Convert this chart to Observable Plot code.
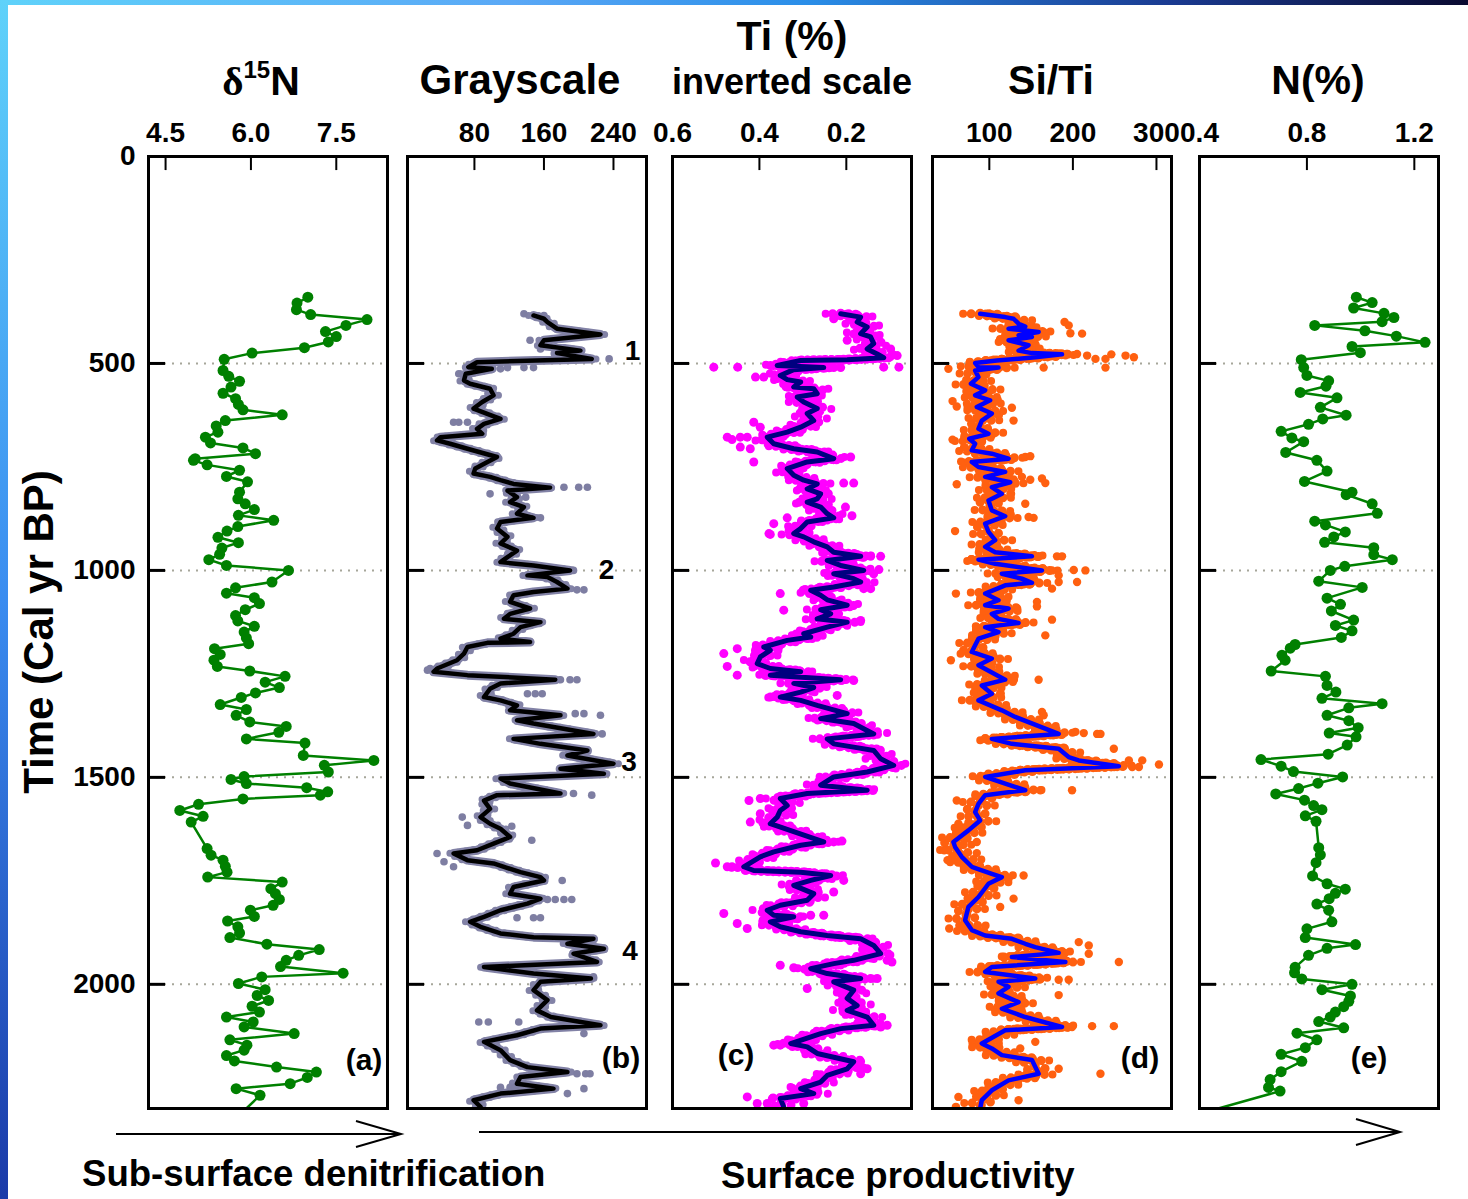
<!DOCTYPE html>
<html>
<head>
<meta charset="utf-8">
<script src="https://cdn.jsdelivr.net/npm/d3@7"></script>
<script src="https://cdn.jsdelivr.net/npm/@observablehq/plot@0.6"></script>
<style>
  body { margin: 0; background: #fff; }
  #page { position: relative; width: 1468px; height: 1199px; overflow: hidden; background: #fff; }
  #page svg { display: block; }
</style>
</head>
<body>
<div id="page"></div>
<script>
// ---------- data: [age (cal yr BP), value] ----------
const d15N = [[340,7.00],[354,6.81],[370,6.80],[382,7.05],[394,8.04],[408,7.67],[423,7.31],[435,7.50],[448,7.36],[462,6.94],[475,6.02],[490,5.53],[517,5.51],[531,5.61],[543,5.80],[557,5.65],[572,5.51],[585,5.73],[599,5.78],[612,5.86],[624,6.55],[638,5.55],[651,5.39],[666,5.42],[678,5.20],[692,5.29],[704,5.86],[718,6.08],[730,5.02],[734,4.99],[745,5.23],[758,5.80],[773,5.57],[786,5.94],[811,5.80],[827,5.77],[839,5.90],[853,6.06],[867,5.78],[879,6.40],[894,5.77],[905,5.58],[920,5.42],[933,5.78],[946,5.49],[961,5.45],[974,5.26],[988,5.57],[1000,6.66],[1028,6.37],[1042,5.73],[1055,5.57],[1066,6.06],[1080,6.15],[1095,5.90],[1109,5.73],[1122,5.77],[1135,6.06],[1149,5.88],[1163,5.92],[1177,5.96],[1189,5.36],[1203,5.46],[1217,5.35],[1232,5.41],[1243,5.98],[1256,6.60],[1270,6.25],[1283,6.50],[1296,6.08],[1307,5.83],[1324,5.46],[1336,5.92],[1350,5.74],[1366,5.98],[1377,6.62],[1391,6.49],[1407,5.92],[1417,6.95],[1447,6.92],[1459,8.16],[1471,7.29],[1487,7.36],[1498,5.88],[1505,5.65],[1515,5.92],[1525,6.98],[1535,7.35],[1543,7.22],[1552,5.86],[1565,5.08],[1580,4.75],[1594,5.16],[1608,4.95],[1672,5.23],[1688,5.30],[1700,5.51],[1715,5.55],[1729,5.58],[1741,5.24],[1753,6.55],[1769,6.35],[1781,6.43],[1795,6.50],[1809,6.39],[1821,5.99],[1836,6.06],[1847,5.59],[1861,5.77],[1876,5.80],[1887,5.63],[1903,6.28],[1916,7.20],[1930,6.84],[1942,6.62],[1957,6.52],[1973,7.62],[1982,6.19],[1998,5.78],[2013,6.25],[2027,6.11],[2039,6.31],[2053,6.02],[2067,6.15],[2079,5.57],[2091,6.04],[2103,5.88],[2119,6.76],[2134,5.63],[2147,5.93],[2159,5.88],[2172,5.57],[2185,5.71],[2200,6.45],[2212,7.15],[2225,6.99],[2240,6.69],[2252,5.74],[2268,6.16],[2300,5.92]];

const grayLine = [[384,148],[392,160],[400,164],[416,175],[430,225],[444,160],[456,156],[469,202],[475,175],[489,215],[497,83],[509,73],[513,100],[525,70],[541,68],[549,75],[561,98],[577,102],[593,89],[609,79],[621,94],[634,110],[646,91],[658,83],[670,89],[678,41],[686,37],[694,52],[706,72],[726,106],[738,95],[754,81],[766,79],[774,98],[782,110],[791,125],[800,167],[807,118],[823,129],[835,121],[847,137],[863,129],[873,148],[883,110],[899,106],[919,118],[935,110],[952,129],[968,118],[980,110],[988,148],[1000,190],[1012,141],[1016,164],[1028,175],[1044,187],[1052,148],[1060,125],[1076,121],[1092,144],[1105,121],[1117,114],[1125,156],[1137,133],[1153,125],[1165,110],[1173,144],[1175,95],[1185,72],[1201,68],[1217,60],[1237,37],[1245,33],[1253,72],[1264,173],[1273,110],[1286,98],[1306,91],[1314,110],[1326,129],[1338,121],[1350,179],[1362,129],[1370,148],[1395,217],[1407,125],[1419,156],[1435,210],[1447,187],[1467,240],[1479,179],[1491,229],[1503,110],[1515,121],[1539,179],[1543,106],[1556,91],[1576,98],[1596,87],[1612,98],[1624,110],[1644,121],[1660,102],[1676,83],[1684,56],[1700,72],[1708,102],[1729,133],[1741,156],[1749,160],[1765,125],[1781,121],[1793,156],[1805,141],[1821,110],[1837,91],[1849,75],[1861,87],[1877,110],[1886,148],[1890,217],[1902,187],[1914,229],[1926,194],[1946,221],[1958,91],[1974,148],[1986,214],[1994,156],[2014,148],[2038,164],[2063,152],[2079,168],[2099,225],[2107,156],[2123,129],[2139,91],[2159,110],[2183,121],[2200,141],[2212,187],[2224,133],[2240,129],[2252,171],[2264,110],[2280,79],[2296,87]];

const grayDots = [[380,137],[384,160],[444,144],[465,156],[489,235],[513,110],[510,118],[510,137],[510,148],[525,62],[642,56],[642,62],[642,72],[799,183],[799,200],[799,210],[815,98],[823,139],[873,156],[1000,194],[1047,206],[1047,198],[1264,179],[1264,190],[1264,198],[1298,141],[1298,150],[1298,158],[1237,29],[1241,26],[1346,196],[1346,206],[1350,225],[1395,227],[1539,194],[1543,215],[1596,66],[1616,72],[1618,123],[1652,146],[1749,181],[1795,164],[1795,173],[1795,183],[1795,192],[1839,129],[1839,148],[1839,156],[1982,217],[2091,85],[2091,96],[2091,131],[2119,206],[2216,198],[2216,208],[2216,213],[2252,206],[2264,187],[2249,110],[2249,121],[2249,127],[1684,37],[1704,45],[1716,56]];

const events = [[471,262,"1"],[1000,232,"2"],[1464,258,"3"],[1920,259,"4"]];

const tiLine = [[380,0.213],[388,0.167],[400,0.175],[412,0.152],[428,0.167],[436,0.144],[452,0.137],[465,0.152],[477,0.129],[486,0.114],[491,0.198],[493,0.305],[505,0.359],[510,0.252],[515,0.321],[529,0.352],[539,0.336],[545,0.305],[557,0.321],[561,0.275],[573,0.267],[581,0.313],[593,0.298],[609,0.267],[621,0.290],[638,0.275],[654,0.305],[666,0.336],[678,0.382],[694,0.367],[706,0.321],[714,0.267],[730,0.229],[738,0.290],[754,0.336],[770,0.321],[782,0.298],[791,0.267],[803,0.290],[815,0.259],[827,0.267],[835,0.290],[847,0.259],[863,0.244],[873,0.229],[883,0.290],[899,0.305],[911,0.321],[919,0.298],[931,0.275],[943,0.244],[956,0.229],[966,0.167],[976,0.244],[988,0.213],[1000,0.160],[1008,0.229],[1020,0.183],[1028,0.167],[1040,0.229],[1048,0.282],[1060,0.259],[1071,0.244],[1084,0.198],[1095,0.259],[1105,0.236],[1117,0.267],[1125,0.198],[1137,0.244],[1153,0.298],[1161,0.282],[1169,0.336],[1185,0.390],[1193,0.375],[1209,0.398],[1225,0.405],[1237,0.375],[1245,0.305],[1253,0.375],[1264,0.213],[1273,0.321],[1283,0.275],[1294,0.305],[1306,0.352],[1314,0.305],[1326,0.267],[1346,0.198],[1358,0.259],[1370,0.183],[1395,0.137],[1407,0.244],[1419,0.229],[1427,0.183],[1435,0.137],[1455,0.121],[1471,0.091],[1487,0.152],[1499,0.229],[1519,0.259],[1531,0.152],[1539,0.290],[1551,0.352],[1568,0.336],[1580,0.352],[1596,0.359],[1612,0.375],[1656,0.252],[1664,0.305],[1680,0.367],[1692,0.398],[1716,0.436],[1725,0.413],[1729,0.305],[1737,0.236],[1749,0.282],[1761,0.321],[1781,0.275],[1797,0.290],[1809,0.352],[1821,0.382],[1833,0.367],[1837,0.321],[1849,0.375],[1861,0.352],[1873,0.305],[1882,0.244],[1890,0.167],[1906,0.137],[1926,0.121],[1942,0.183],[1950,0.229],[1962,0.282],[1974,0.244],[1986,0.167],[1994,0.229],[2014,0.183],[2034,0.198],[2051,0.175],[2063,0.198],[2079,0.152],[2099,0.137],[2107,0.213],[2119,0.259],[2143,0.328],[2151,0.290],[2167,0.267],[2187,0.183],[2204,0.198],[2220,0.244],[2236,0.259],[2252,0.305],[2264,0.275],[2276,0.352],[2296,0.344]];

const tiDots = [[509,0.505],[509,0.450],[533,0.409],[533,0.390],[642,0.413],[654,0.398],[678,0.474],[684,0.463],[678,0.444],[678,0.428],[702,0.444],[706,0.421],[738,0.413],[726,0.190],[789,0.206],[789,0.183],[847,0.202],[868,0.187],[873,0.336],[887,0.367],[911,0.378],[913,0.375],[966,0.144],[966,0.121],[998,0.125],[1008,0.137],[1044,0.160],[1044,0.144],[1056,0.352],[1096,0.344],[1121,0.167],[1201,0.482],[1232,0.474],[1253,0.451],[1189,0.451],[1266,0.183],[1302,0.221],[1306,0.375],[392,0.229],[444,0.198],[465,0.098],[481,0.083],[509,0.114],[509,0.079],[510,0.213],[510,0.229],[509,0.244],[1556,0.424],[1551,0.398],[1608,0.421],[1588,0.398],[1656,0.229],[1654,0.210],[1707,0.501],[1716,0.474],[1716,0.463],[1749,0.206],[1777,0.229],[1829,0.482],[1853,0.451],[1865,0.428],[1833,0.282],[1833,0.252],[1934,0.167],[1942,0.106],[1946,0.095],[1954,0.352],[1960,0.321],[2010,0.290],[1986,0.144],[1986,0.129],[2099,0.106],[2103,0.121],[2147,0.367],[2147,0.352],[2204,0.152],[2216,0.167],[2272,0.428],[2288,0.405],[2288,0.382],[2288,0.298]];

const siTiLine = [[380,89],[388,119],[392,129],[404,135],[411,143],[416,123],[424,159],[432,135],[436,151],[444,123],[456,147],[469,135],[475,151],[478,187],[485,155],[493,109],[499,83],[509,87],[510,111],[517,83],[533,87],[549,78],[565,95],[577,83],[589,101],[605,85],[621,103],[638,91],[658,87],[670,99],[682,76],[694,83],[710,79],[718,103],[730,123],[738,79],[750,87],[762,119],[774,95],[787,125],[799,103],[815,115],[831,99],[855,103],[869,119],[887,95],[907,99],[927,107],[943,95],[956,107],[966,151],[974,87],[984,107],[1000,163],[1008,115],[1020,139],[1030,151],[1036,119],[1056,95],[1072,111],[1084,95],[1092,123],[1105,103],[1117,111],[1127,135],[1137,95],[1149,111],[1165,87],[1181,83],[1197,79],[1213,103],[1229,87],[1264,119],[1278,91],[1298,103],[1314,87],[1338,115],[1354,131],[1395,183],[1407,103],[1419,127],[1431,183],[1451,195],[1459,207],[1473,255],[1483,143],[1499,95],[1515,119],[1531,143],[1543,95],[1564,87],[1584,83],[1604,89],[1628,75],[1656,57],[1668,59],[1692,67],[1716,79],[1733,103],[1741,115],[1757,99],[1789,87],[1813,75],[1845,71],[1869,79],[1882,95],[1890,127],[1902,143],[1910,155],[1924,183],[1934,127],[1946,191],[1958,103],[1970,95],[1986,155],[1994,111],[2006,123],[2022,111],[2043,135],[2059,115],[2079,143],[2103,187],[2111,119],[2143,91],[2155,103],[2171,115],[2183,151],[2216,159],[2232,123],[2256,103],[2280,91],[2300,89]];

const siTiDots = [[428,211],[400,190],[408,195],[427,197],[477,205],[481,217],[489,227],[489,239],[478,246],[481,263],[485,273],[510,239],[510,165],[513,51],[591,56],[604,61],[684,56],[792,61],[607,127],[638,129],[726,143],[724,149],[774,139],[781,149],[778,163],[789,167],[839,143],[871,147],[873,153],[905,59],[966,181],[966,187],[1000,175],[999,201],[1000,215],[1012,183],[1028,183],[1028,205],[1044,175],[1056,60],[1076,157],[1087,157],[1119,175],[1157,167],[1264,159],[1217,54],[1342,163],[1350,165],[1390,203],[1393,213],[1395,229],[1395,233],[1431,249],[1459,267],[1459,283],[1469,303],[1475,271],[1475,279],[1531,161],[1531,199],[1556,61],[1612,63],[1676,46],[1700,50],[1656,85],[1683,85],[1737,141],[1793,129],[1813,113],[1865,52],[1898,207],[1906,219],[1926,219],[1946,255],[1989,183],[1989,195],[2026,183],[2103,199],[2101,223],[2101,249],[2139,155],[2155,137],[2204,183],[2216,233],[2272,63],[2280,135],[2296,60]];

const nPct = [[340,0.984],[353,1.043],[366,0.974],[379,1.087],[389,1.124],[399,1.080],[408,0.829],[421,1.016],[434,1.133],[449,1.240],[459,0.968],[474,0.999],[491,0.779],[510,0.788],[529,0.800],[542,0.881],[555,0.871],[570,0.775],[583,0.912],[606,0.850],[625,0.946],[634,0.859],[647,0.806],[664,0.704],[680,0.744],[689,0.788],[715,0.721],[734,0.837],[760,0.875],[785,0.791],[811,0.968],[817,0.946],[839,1.043],[862,1.062],[881,0.829],[890,0.869],[907,0.943],[919,0.900],[932,0.866],[945,1.049],[962,1.049],[974,1.118],[990,0.941],[1000,0.887],[1026,0.844],[1041,1.006],[1067,0.875],[1082,0.925],[1098,0.891],[1120,0.974],[1133,0.906],[1146,0.968],[1162,0.928],[1179,0.756],[1188,0.738],[1205,0.707],[1217,0.719],[1243,0.667],[1256,0.869],[1278,0.875],[1294,0.908],[1309,0.856],[1322,1.080],[1332,0.956],[1350,0.875],[1363,0.956],[1380,0.991],[1393,0.883],[1402,0.983],[1422,0.950],[1444,0.879],[1457,0.629],[1473,0.704],[1486,0.750],[1499,0.933],[1514,0.841],[1527,0.769],[1540,0.684],[1555,0.791],[1568,0.825],[1578,0.856],[1593,0.794],[1606,0.834],[1670,0.844],[1687,0.850],[1706,0.834],[1738,0.821],[1757,0.875],[1770,0.943],[1780,0.906],[1793,0.883],[1806,0.837],[1821,0.881],[1849,0.893],[1866,0.800],[1887,0.794],[1904,0.981],[1913,0.875],[1930,0.806],[1959,0.756],[1972,0.754],[1987,0.781],[2000,0.968],[2013,0.856],[2028,0.962],[2041,0.956],[2054,0.937],[2067,0.906],[2079,0.887],[2090,0.844],[2105,0.937],[2118,0.763],[2134,0.837],[2153,0.794],[2169,0.704],[2186,0.781],[2211,0.704],[2230,0.663],[2249,0.657],[2258,0.700],[2300,0.470]];

// ---------- axes ----------
const ageDomain = [0, 2300];
const ageTicks = [500, 1000, 1500, 2000];
const ageLabels = [0, 500, 1000, 1500, 2000];
const ticksA = [4.5, 6.0, 7.5];
const ticksB = [80, 160, 240];
const ticksC = [0.6, 0.4, 0.2];
const ticksD = [100, 200, 300];
const ticksE = [0.4, 0.8, 1.2];

const FONT = '"Liberation Sans", Arial, Helvetica, sans-serif';
const page = document.getElementById("page");
const PANEL_W = 239, PANEL_H = 952, PANEL_TOP = 156;

const age = d => d[0];
const val = d => d[1];
const withDot = d => d[0] < 2300;

// A band of the raw-sample colour drawn under a smoothed curve: a row of round
// dots along the curve and a few sideways-shifted rows, so the band looks speckled.
function speckleBand(data, color, rows) {
  return rows.map(([dx, w, gap]) =>
    Plot.line(data, {x: val, y: age, dx, stroke: color, strokeWidth: w,
      strokeDasharray: `0,${gap}`, strokeLinecap: "round", strokeLinejoin: "round", clip: true}));
}

function panel({left, domain, ticks, fmt, marks, marginLeft = 5, extra = []}) {
  const mt = 62, mb = 6, mr = 5;
  const tickLen = (domain[1] - domain[0]) * 17 / PANEL_W;
  const svg = Plot.plot({
    width: PANEL_W + marginLeft + mr,
    height: PANEL_H + mt + mb,
    marginLeft, marginRight: mr, marginTop: mt, marginBottom: mb,
    x: {domain, axis: null},
    y: {domain: ageDomain, reverse: true, axis: null},
    style: {fontFamily: FONT, fontWeight: "bold", background: "transparent", overflow: "visible", color: "black"},
    marks: [
      Plot.ruleY(ageTicks, {y: d => d, stroke: "#a6a69a", strokeWidth: 2, strokeDasharray: "2,6"}),
      ...marks,
      Plot.ruleY(ageTicks, {y: d => d, x1: () => domain[0], x2: () => domain[0] + tickLen, stroke: "black", strokeWidth: 3}),
      Plot.ruleX(ticks, {x: d => d, y1: () => 0, y2: () => 34, stroke: "black", strokeWidth: 2}),
      Plot.axisX(ticks, {anchor: "top", tickSize: 0, tickPadding: 15, fontSize: 28, fontWeight: "bold", tickFormat: fmt}),
      ...extra,
      Plot.frame({stroke: "black", strokeWidth: 3})
    ]
  });
  svg.style.position = "absolute";
  svg.style.left = (left - marginLeft) + "px";
  svg.style.top = (PANEL_TOP - mt) + "px";
  page.appendChild(svg);
}

// (a) δ15N
panel({
  left: 148, domain: [4.2, 8.4], ticks: ticksA, fmt: d => d.toFixed(1), marginLeft: 100,
  marks: [
    Plot.line(d15N, {x: val, y: age, stroke: "#008000", strokeWidth: 2.5, clip: true}),
    Plot.dot(d15N.filter(withDot), {x: val, y: age, r: 5.5, fill: "#008000", clip: true})
  ],
  extra: [Plot.axisY(ageLabels, {anchor: "left", tickSize: 0, tickPadding: 13, fontSize: 28, fontWeight: "bold", tickFormat: d => String(d)})]
});

// (b) Grayscale
panel({
  left: 407, domain: [3, 278], ticks: ticksB, fmt: d => String(d),
  marks: [
    Plot.line(grayLine, {x: val, y: age, stroke: "#8282a6", strokeWidth: 9, strokeLinejoin: "round", strokeLinecap: "round", clip: true}),
    ...speckleBand(grayLine, "#8282a6", [[-5, 7, 8], [5, 7, 9]]),
    Plot.dot(grayDots, {x: val, y: age, r: 3.8, fill: "#7e7ea2", clip: true}),
    Plot.line(grayLine, {x: val, y: age, stroke: "black", strokeWidth: 4.5, clip: true}),
    Plot.text(events, {x: d => d[1], y: d => d[0], text: d => d[2], fontSize: 28, fontWeight: "bold"})
  ]
});

// (c) Ti, inverted scale
panel({
  left: 672, domain: [0.6, 0.05], ticks: ticksC, fmt: d => d.toFixed(1),
  marks: [
    ...speckleBand(tiLine, "#ff00ff", [[0, 10, 6], [-8, 9, 8], [8, 9, 9], [-15, 8, 15], [15, 8, 17]]),
    Plot.dot(tiDots, {x: val, y: age, r: 4.5, fill: "#ff00ff", clip: true}),
    Plot.line(tiLine, {x: val, y: age, stroke: "#000080", strokeWidth: 5, clip: true})
  ]
});

// (d) Si/Ti
panel({
  left: 932, domain: [32, 318], ticks: ticksD, fmt: d => String(d),
  marks: [
    ...speckleBand(siTiLine, "#ff6010", [[0, 10, 6], [-9, 9, 8], [9, 9, 9], [-17, 8, 16], [17, 8, 18]]),
    Plot.dot(siTiDots, {x: val, y: age, r: 4.2, fill: "#ff6010", clip: true}),
    Plot.line(siTiLine, {x: val, y: age, stroke: "#0000ff", strokeWidth: 4.5, clip: true})
  ]
});

// (e) N(%)
panel({
  left: 1199, domain: [0.4, 1.29], ticks: ticksE, fmt: d => d.toFixed(1),
  marks: [
    Plot.line(nPct, {x: val, y: age, stroke: "#008000", strokeWidth: 2.5, clip: true}),
    Plot.dot(nPct.filter(withDot), {x: val, y: age, r: 5.5, fill: "#008000", clip: true})
  ]
});

// ---------- titles, panel letters, arrows, slide border ----------
const NS = "http://www.w3.org/2000/svg";
const over = document.createElementNS(NS, "svg");
over.setAttribute("width", 1468);
over.setAttribute("height", 1199);
over.style.position = "absolute";
over.style.left = "0px";
over.style.top = "0px";
over.style.pointerEvents = "none";
over.innerHTML = `
  <defs>
    <linearGradient id="topband" x1="0" y1="0" x2="1" y2="0">
      <stop offset="0" stop-color="#5fd2fa"/>
      <stop offset="0.35" stop-color="#5aa8f6"/>
      <stop offset="0.55" stop-color="#2a8ee8"/>
      <stop offset="0.8" stop-color="#1a3a90"/>
      <stop offset="1" stop-color="#0a0a30"/>
    </linearGradient>
    <linearGradient id="leftband" x1="0" y1="0" x2="0" y2="1">
      <stop offset="0" stop-color="#5fd2fa"/>
      <stop offset="0.5" stop-color="#3a8cf0"/>
      <stop offset="1" stop-color="#1a3aa8"/>
    </linearGradient>
  </defs>
  <rect x="0" y="0" width="1468" height="5" fill="url(#topband)"/>
  <rect x="0" y="0" width="8" height="1199" fill="url(#leftband)"/>
  <g font-family='${FONT}' font-weight="bold" fill="black">
    <text x="792" y="50" font-size="41" text-anchor="middle">Ti (%)</text>
    <text x="261" y="95" font-size="41" text-anchor="middle"><tspan font-family='"Liberation Serif", "DejaVu Serif", serif'>δ</tspan><tspan font-size="24" dy="-17">15</tspan><tspan dy="17">N</tspan></text>
    <text x="520" y="94" font-size="42" text-anchor="middle">Grayscale</text>
    <text x="792" y="94" font-size="36" text-anchor="middle">inverted scale</text>
    <text x="1051" y="94" font-size="41" text-anchor="middle">Si/Ti</text>
    <text x="1318" y="94" font-size="41" text-anchor="middle">N(%)</text>
    <text transform="translate(53,632) rotate(-90)" font-size="42" text-anchor="middle">Time (Cal yr BP)</text>
    <text x="364" y="1070" font-size="30" text-anchor="middle">(a)</text>
    <text x="621" y="1068" font-size="30" text-anchor="middle">(b)</text>
    <text x="736" y="1065" font-size="30" text-anchor="middle">(c)</text>
    <text x="1140" y="1068" font-size="30" text-anchor="middle">(d)</text>
    <text x="1369" y="1068" font-size="30" text-anchor="middle">(e)</text>
    <text x="82" y="1186" font-size="36.6">Sub-surface denitrification</text>
    <text x="721" y="1188" font-size="36.6">Surface productivity</text>
  </g>
  <g stroke="black" stroke-width="2" fill="none">
    <line x1="116" y1="1134" x2="401" y2="1134"/>
    <polyline points="356,1121 401,1134 356,1147"/>
    <line x1="479" y1="1132" x2="1400" y2="1132"/>
    <polyline points="1356,1119 1400,1132 1356,1145"/>
  </g>`;
page.appendChild(over);
</script>
</body>
</html>
